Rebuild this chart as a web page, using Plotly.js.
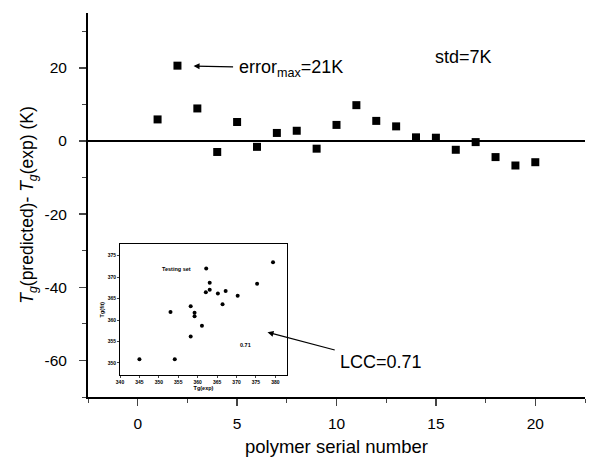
<!DOCTYPE html>
<html>
<head>
<meta charset="utf-8">
<script src="https://cdn.plot.ly/plotly-3.0.1.min.js"></script>
<style>html,body{margin:0;padding:0;background:#fff;}#chart{width:589px;height:457px;}</style>
</head>
<body>
<div id="chart"></div>
<script>
// Main series: deviation of predicted Tg from experimental Tg
const serialNumbers = [1,2,3,4,5,6,7,8,9,10,11,12,13,14,15,16,17,18,19,20];
const tgDeviation = [5.9,20.6,8.9,-3.0,5.2,-1.6,2.2,2.8,-2.1,4.4,9.8,5.5,4.0,1.0,0.9,-2.4,-0.3,-4.4,-6.7,-5.8];
const mainYTicks = [-60,-40,-20,0,20];
const mainYTickText = ['-60','-40','-20','0','20'];
const mainXTicks = [0,5,10,15,20];

// Inset: testing set Tg(fit) vs Tg(exp)
const insetTgExp = [345.0,353.0,354.1,358.2,358.2,359.2,359.2,361.1,362.1,362.2,363.1,363.1,365.2,366.4,367.2,370.3,375.3,379.4];
const insetTgFit = [350.9,361.9,350.9,363.2,356.2,361.7,360.9,358.7,366.5,372.0,368.7,367.1,366.2,363.7,366.8,365.7,368.5,373.5];
const insetXTicks = [340,345,350,355,360,365,370,375,380];
const insetYTicks = [350,355,360,365,370,375];

const FONT = 'Arial, "Liberation Sans", sans-serif';

const traces = [
  {
    x: serialNumbers, y: tgDeviation, type: 'scatter', mode: 'markers',
    marker: {symbol: 'square', size: 8, color: '#000'},
    xaxis: 'x', yaxis: 'y', hoverinfo: 'skip'
  },
  {
    x: insetTgExp, y: insetTgFit, type: 'scatter', mode: 'markers',
    marker: {symbol: 'circle', size: 4, color: '#000'},
    xaxis: 'x2', yaxis: 'y2', hoverinfo: 'skip'
  }
];

const layout = {
  width: 589, height: 457,
  margin: {l: 88, r: 4, t: 13, b: 60},
  paper_bgcolor: '#fff', plot_bgcolor: 'rgba(0,0,0,0)',
  showlegend: false,
  font: {family: FONT, color: '#000', size: 15},
  xaxis: {
    range: [-2.5, 22.5], tickvals: mainXTicks, ticks: 'outside', ticklen: 7, tickwidth: 1.5,
    minor: {dtick: 2.5, tick0: 0, ticks: 'outside', ticklen: 4, tickwidth: 1},
    showline: true, linecolor: '#000', linewidth: 2, showgrid: false, zeroline: false,
    tickfont: {size: 15.5}, ticklabelstandoff: 4,
    title: {text: 'polymer serial number', font: {size: 18.5}, standoff: 10}
  },
  yaxis: {
    range: [-70, 35], tickvals: mainYTicks, ticktext: mainYTickText, ticks: 'outside', ticklen: 7, tickwidth: 1.5,
    minor: {dtick: 10, tick0: 0, ticks: 'outside', ticklen: 4, tickwidth: 1},
    showline: true, linecolor: '#000', linewidth: 2, showgrid: false,
    zeroline: true, zerolinecolor: '#000', zerolinewidth: 1.5,
    tickfont: {size: 15.5}, ticklabelstandoff: 9,
    title: {text: '<i>T</i><sub><i>g</i></sub>(predicted)- <i>T</i><sub><i>g</i></sub>(exp) (K)', font: {size: 17.5}, standoff: 6}
  },
  xaxis2: {
    domain: [0.0644, 0.4004], anchor: 'y2', range: [340, 383], tickvals: insetXTicks,
    ticks: 'outside', ticklen: 2, tickwidth: 1, showline: true, mirror: true, linecolor: '#000', linewidth: 1,
    showgrid: false, zeroline: false, tickfont: {size: 5, weight: 'bold'},
    title: {text: '<b>Tg(exp)</b>', font: {size: 5.5}, standoff: 2}
  },
  yaxis2: {
    domain: [0.0573, 0.398], anchor: 'x2', range: [347.2, 377.7], tickvals: insetYTicks,
    ticks: 'outside', ticklen: 2, tickwidth: 1, showline: true, mirror: true, linecolor: '#000', linewidth: 1,
    showgrid: false, zeroline: false, tickfont: {size: 5, weight: 'bold'},
    title: {text: '<b>Tg(fit)</b>', font: {size: 5.5}, standoff: 2}
  },
  annotations: [
    {x: 2.81, y: 20.5, ax: 7.69, ay: 19.9, xref: 'x', yref: 'y', axref: 'x', ayref: 'y',
     text: 'error<sub>max</sub>=21K', font: {size: 18}, borderpad: 5,
     showarrow: true, arrowhead: 2, arrowsize: 1, arrowwidth: 1.2, arrowcolor: '#000'},
    {x: 16.4, y: 23.0, xref: 'x', yref: 'y', xanchor: 'center', yanchor: 'middle', showarrow: false,
     text: 'std=7K', font: {size: 18}},
    {x: 6.53, y: -52.3, ax: 12.25, ay: -60.5, xref: 'x', yref: 'y', axref: 'x', ayref: 'y',
     text: 'LCC=0.71', font: {size: 18}, borderpad: 5,
     showarrow: true, arrowhead: 2, arrowsize: 1, arrowwidth: 1.2, arrowcolor: '#000'},
    {x: 354.5, y: 371.9, xref: 'x2', yref: 'y2', xanchor: 'center', yanchor: 'middle', showarrow: false,
     text: '<b>Testing set</b>', font: {size: 5.5}},
    {x: 372.4, y: 354.1, xref: 'x2', yref: 'y2', xanchor: 'center', yanchor: 'middle', showarrow: false,
     text: '<b>0.71</b>', font: {size: 5.5}}
  ]
};

Plotly.newPlot('chart', traces, layout, {staticPlot: true, displayModeBar: false});
</script>
</body>
</html>
